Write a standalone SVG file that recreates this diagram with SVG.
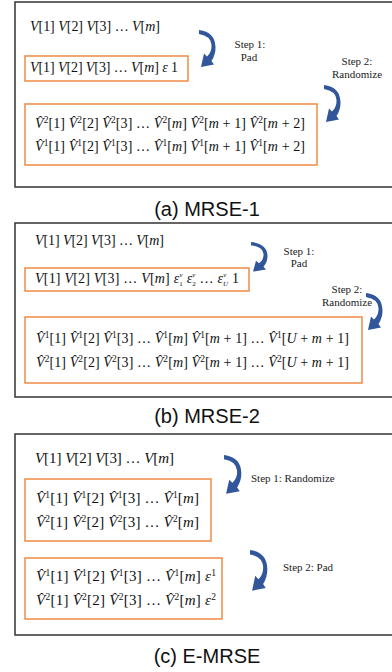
<svg xmlns="http://www.w3.org/2000/svg" xmlns:xlink="http://www.w3.org/1999/xlink" width="392" height="672" viewBox="0 0 392 672">
  <style>
    .frame { fill: none; stroke: #333333; stroke-width: 1.5; }
    .box { fill: #ffffff; stroke: #ef8a45; stroke-width: 1.5; }
    .m { font-family: "Liberation Serif", "DejaVu Serif", serif; font-size: 14px; fill: #111; }
    .m14 { font-size: 15px; }
    .i { font-style: italic; }
    .s { font-size: 9.5px; }
    .ss { font-size: 7px; }
    .lbl { font-family: "Liberation Serif", "DejaVu Serif", serif; font-size: 11px; fill: #222; }
    .cap { font-family: "Liberation Sans", Arial, sans-serif; font-size: 20px; fill: #111; text-anchor: middle; }
    .arr { fill: #31579a; }
  </style>
  <defs>
    <!-- curved step arrow, origin at the tail's upper corner -->
    <path id="arr" class="arr" d="M0,0 Q16,2 16.5,17 Q16.75,24.5 12.5,31 L15,34.5 L2,37 L5,23.5 L8,26.5 Q13,22 12.5,15 Q11.85,5.9 0,4 Z"/>
  </defs>

  <rect width="392" height="672" fill="#ffffff"/>

  <!-- (a) MRSE-1 -->
  <g id="panel-a">
    <rect class="frame" x="15" y="2" width="400" height="185"/>
    <g id="a-input">
      <text class="m" x="30" y="31" textLength="130" lengthAdjust="spacing"><tspan class="i">V</tspan>[1] <tspan class="i">V</tspan>[2] <tspan class="i">V</tspan>[3] … <tspan class="i">V</tspan>[<tspan class="i">m</tspan>]</text>
    </g>
    <g id="a-padded">
      <rect class="box" x="25" y="56" width="163" height="25"/>
      <text class="m" x="30" y="72" textLength="148" lengthAdjust="spacing"><tspan class="i">V</tspan>[1] <tspan class="i">V</tspan>[2] <tspan class="i">V</tspan>[3] … <tspan class="i">V</tspan>[<tspan class="i">m</tspan>] <tspan class="i">ε</tspan> 1</text>
    </g>
    <g id="a-randomized">
      <rect class="box" x="25" y="104" width="292" height="61"/>
      <text class="m" x="35" y="128" textLength="270" lengthAdjust="spacing"><tspan class="i">V̂</tspan><tspan class="s" dy="-5">2</tspan><tspan dy="5">[1] </tspan><tspan class="i">V̂</tspan><tspan class="s" dy="-5">2</tspan><tspan dy="5">[2] </tspan><tspan class="i">V̂</tspan><tspan class="s" dy="-5">2</tspan><tspan dy="5">[3] … </tspan><tspan class="i">V̂</tspan><tspan class="s" dy="-5">2</tspan><tspan dy="5">[</tspan><tspan class="i">m</tspan>] <tspan class="i">V̂</tspan><tspan class="s" dy="-5">2</tspan><tspan dy="5">[</tspan><tspan class="i">m</tspan> + 1] <tspan class="i">V̂</tspan><tspan class="s" dy="-5">2</tspan><tspan dy="5">[</tspan><tspan class="i">m</tspan> + 2]</text>
      <text class="m" x="35" y="151" textLength="270" lengthAdjust="spacing"><tspan class="i">V̂</tspan><tspan class="s" dy="-5">1</tspan><tspan dy="5">[1] </tspan><tspan class="i">V̂</tspan><tspan class="s" dy="-5">1</tspan><tspan dy="5">[2] </tspan><tspan class="i">V̂</tspan><tspan class="s" dy="-5">1</tspan><tspan dy="5">[3] … </tspan><tspan class="i">V̂</tspan><tspan class="s" dy="-5">1</tspan><tspan dy="5">[</tspan><tspan class="i">m</tspan>] <tspan class="i">V̂</tspan><tspan class="s" dy="-5">1</tspan><tspan dy="5">[</tspan><tspan class="i">m</tspan> + 1] <tspan class="i">V̂</tspan><tspan class="s" dy="-5">1</tspan><tspan dy="5">[</tspan><tspan class="i">m</tspan> + 2]</text>
    </g>
    <g id="a-step1">
      <text class="lbl" x="250" y="48" text-anchor="middle">Step 1:</text>
      <text class="lbl" x="249" y="61" text-anchor="middle">Pad</text>
    </g>
    <g id="a-step2">
      <text class="lbl" x="357" y="65" text-anchor="middle">Step 2:</text>
      <text class="lbl" x="357" y="78" text-anchor="middle">Randomize</text>
    </g>
    <text class="cap" x="207" y="216">(a) MRSE-1</text>
  </g>

  <!-- (b) MRSE-2 -->
  <g id="panel-b">
    <rect class="frame" x="15" y="223" width="400" height="174"/>
    <g id="b-input">
      <text class="m" x="35" y="245" textLength="129" lengthAdjust="spacing"><tspan class="i">V</tspan>[1] <tspan class="i">V</tspan>[2] <tspan class="i">V</tspan>[3] … <tspan class="i">V</tspan>[<tspan class="i">m</tspan>]</text>
    </g>
    <g id="b-padded">
      <rect class="box" x="25" y="268" width="224" height="23"/>
      <text class="m" x="35" y="283" textLength="204" lengthAdjust="spacing"><tspan class="i">V</tspan>[1] <tspan class="i">V</tspan>[2] <tspan class="i">V</tspan>[3] … <tspan class="i">V</tspan>[<tspan class="i">m</tspan>] <tspan class="i">ε</tspan><tspan class="ss i" dy="-6">v</tspan><tspan class="ss" dx="-3.5" dy="9">1</tspan><tspan dy="-3"> </tspan><tspan class="i">ε</tspan><tspan class="ss i" dy="-6">v</tspan><tspan class="ss" dx="-3.5" dy="9">2</tspan><tspan dy="-3"> … </tspan><tspan class="i">ε</tspan><tspan class="ss i" dy="-6">v</tspan><tspan class="ss i" dx="-3.5" dy="9">U</tspan><tspan dy="-3"> 1</tspan></text>
    </g>
    <g id="b-randomized">
      <rect class="box" x="25" y="317" width="337" height="66"/>
      <text class="m" x="36" y="343" textLength="313" lengthAdjust="spacing"><tspan class="i">V̂</tspan><tspan class="s" dy="-5">1</tspan><tspan dy="5">[1] </tspan><tspan class="i">V̂</tspan><tspan class="s" dy="-5">1</tspan><tspan dy="5">[2] </tspan><tspan class="i">V̂</tspan><tspan class="s" dy="-5">1</tspan><tspan dy="5">[3] … </tspan><tspan class="i">V̂</tspan><tspan class="s" dy="-5">1</tspan><tspan dy="5">[</tspan><tspan class="i">m</tspan>] <tspan class="i">V̂</tspan><tspan class="s" dy="-5">1</tspan><tspan dy="5">[</tspan><tspan class="i">m</tspan> + 1] … <tspan class="i">V̂</tspan><tspan class="s" dy="-5">1</tspan><tspan dy="5">[</tspan><tspan class="i">U</tspan> + <tspan class="i">m</tspan> + 1]</text>
      <text class="m" x="36" y="367" textLength="313" lengthAdjust="spacing"><tspan class="i">V̂</tspan><tspan class="s" dy="-5">2</tspan><tspan dy="5">[1] </tspan><tspan class="i">V̂</tspan><tspan class="s" dy="-5">2</tspan><tspan dy="5">[2] </tspan><tspan class="i">V̂</tspan><tspan class="s" dy="-5">2</tspan><tspan dy="5">[3] … </tspan><tspan class="i">V̂</tspan><tspan class="s" dy="-5">2</tspan><tspan dy="5">[</tspan><tspan class="i">m</tspan>] <tspan class="i">V̂</tspan><tspan class="s" dy="-5">2</tspan><tspan dy="5">[</tspan><tspan class="i">m</tspan> + 1] … <tspan class="i">V̂</tspan><tspan class="s" dy="-5">2</tspan><tspan dy="5">[</tspan><tspan class="i">U</tspan> + <tspan class="i">m</tspan> + 1]</text>
    </g>
    <g id="b-step1">
      <text class="lbl" x="299" y="255" text-anchor="middle">Step 1:</text>
      <text class="lbl" x="299" y="267" text-anchor="middle">Pad</text>
    </g>
    <g id="b-step2">
      <text class="lbl" x="347" y="293" text-anchor="middle">Step 2:</text>
      <text class="lbl" x="347" y="306" text-anchor="middle">Randomize</text>
    </g>
    <text class="cap" x="207" y="423">(b) MRSE-2</text>
  </g>

  <!-- (c) E-MRSE -->
  <g id="panel-c">
    <rect class="frame" x="15" y="434" width="400" height="201"/>
    <g id="c-input">
      <text class="m m14" x="35" y="463" textLength="139" lengthAdjust="spacing"><tspan class="i">V</tspan>[1] <tspan class="i">V</tspan>[2] <tspan class="i">V</tspan>[3] … <tspan class="i">V</tspan>[<tspan class="i">m</tspan>]</text>
    </g>
    <g id="c-randomized">
      <rect class="box" x="25" y="479" width="186" height="62"/>
      <text class="m m14" x="36" y="503" textLength="163" lengthAdjust="spacing"><tspan class="i">V̂</tspan><tspan class="s" dy="-5">1</tspan><tspan dy="5">[1] </tspan><tspan class="i">V̂</tspan><tspan class="s" dy="-5">1</tspan><tspan dy="5">[2] </tspan><tspan class="i">V̂</tspan><tspan class="s" dy="-5">1</tspan><tspan dy="5">[3] … </tspan><tspan class="i">V̂</tspan><tspan class="s" dy="-5">1</tspan><tspan dy="5">[</tspan><tspan class="i">m</tspan>]</text>
      <text class="m m14" x="36" y="527" textLength="163" lengthAdjust="spacing"><tspan class="i">V̂</tspan><tspan class="s" dy="-5">2</tspan><tspan dy="5">[1] </tspan><tspan class="i">V̂</tspan><tspan class="s" dy="-5">2</tspan><tspan dy="5">[2] </tspan><tspan class="i">V̂</tspan><tspan class="s" dy="-5">2</tspan><tspan dy="5">[3] … </tspan><tspan class="i">V̂</tspan><tspan class="s" dy="-5">2</tspan><tspan dy="5">[</tspan><tspan class="i">m</tspan>]</text>
    </g>
    <g id="c-padded">
      <rect class="box" x="25" y="558" width="197" height="61"/>
      <text class="m m14" x="36" y="581" textLength="180" lengthAdjust="spacing"><tspan class="i">V̂</tspan><tspan class="s" dy="-5">1</tspan><tspan dy="5">[1] </tspan><tspan class="i">V̂</tspan><tspan class="s" dy="-5">1</tspan><tspan dy="5">[2] </tspan><tspan class="i">V̂</tspan><tspan class="s" dy="-5">1</tspan><tspan dy="5">[3] … </tspan><tspan class="i">V̂</tspan><tspan class="s" dy="-5">1</tspan><tspan dy="5">[</tspan><tspan class="i">m</tspan>] <tspan class="i">ε</tspan><tspan class="s" dy="-5">1</tspan></text>
      <text class="m m14" x="36" y="605" textLength="180" lengthAdjust="spacing"><tspan class="i">V̂</tspan><tspan class="s" dy="-5">2</tspan><tspan dy="5">[1] </tspan><tspan class="i">V̂</tspan><tspan class="s" dy="-5">2</tspan><tspan dy="5">[2] </tspan><tspan class="i">V̂</tspan><tspan class="s" dy="-5">2</tspan><tspan dy="5">[3] … </tspan><tspan class="i">V̂</tspan><tspan class="s" dy="-5">2</tspan><tspan dy="5">[</tspan><tspan class="i">m</tspan>] <tspan class="i">ε</tspan><tspan class="s" dy="-5">2</tspan></text>
    </g>
    <g id="c-step1">
      <text class="lbl" x="251" y="482">Step 1: Randomize</text>
    </g>
    <g id="c-step2">
      <text class="lbl" x="283" y="571">Step 2: Pad</text>
    </g>
    <text class="cap" x="207" y="663">(c) E-MRSE</text>
  </g>

  <!-- step connectors -->
  <g id="connectors">
    <use xlink:href="#arr" transform="translate(199,30)"/>
    <use xlink:href="#arr" transform="translate(324,85)"/>
    <use xlink:href="#arr" transform="translate(251,242) scale(1,0.8)"/>
    <use xlink:href="#arr" transform="translate(366,293)"/>
    <use xlink:href="#arr" transform="translate(224,455) scale(1.05)"/>
    <use xlink:href="#arr" transform="translate(250,550) scale(1.05,1.1)"/>
  </g>
</svg>
